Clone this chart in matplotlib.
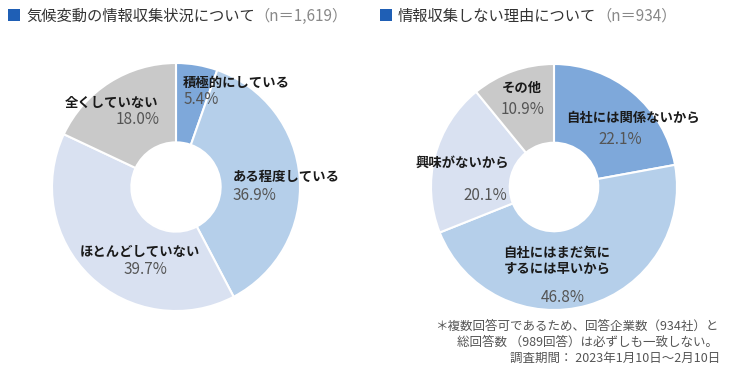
import matplotlib
matplotlib.use("Agg")
import matplotlib.pyplot as plt
from matplotlib.patches import Rectangle

plt.rcParams['font.family'] = ['Noto Sans CJK JP', 'DejaVu Sans']

W, H = 735, 376

# ---- data ----
left_title = "気候変動の情報収集状況について"
left_n = "（n＝1,619）"
left_labels = ["積極的にしている", "ある程度している", "ほとんどしていない", "全くしていない"]
left_values = [5.4, 36.9, 39.7, 18.0]

right_title = "情報収集しない理由について"
right_n = "（n＝934）"
right_labels = ["自社には関係ないから", "自社にはまだ気に\nするには早いから", "興味がないから", "その他"]
right_values = [22.1, 46.8, 20.1, 10.9]

colors = ["#7EA8DA", "#B5CFEA", "#D9E1F1", "#C9C9C9"]

notes = ["＊複数回答可であるため、回答企業数（934社）と",
         "総回答数 （989回答）は必ずしも一致しない。",
         "調査期間： 2023年1月10日～2月10日"]

fig = plt.figure(figsize=(W / 100, H / 100), dpi=100)
fig.patch.set_facecolor("white")


def px(x, y):
    return x / W, 1 - y / H


def donut(cx, cy, r, values, labels, label_pos, pct_pos, label_ha):
    ax = fig.add_axes([(cx - r) / W, (H - cy - r) / H, 2 * r / W, 2 * r / H])
    ax.pie(values, colors=colors, startangle=90, counterclock=False, radius=1.0,
           wedgeprops=dict(width=0.64, edgecolor="white", linewidth=1.5))
    ax.set_xlim(-1, 1)
    ax.set_ylim(-1, 1)
    ax.set_aspect("equal")
    ax.axis("off")
    for lab, val, (lx, ly), (qx, qy), ha in zip(labels, values, label_pos, pct_pos, label_ha):
        ax.text((lx - cx) / r, (cy - ly) / r, lab, ha=ha, va="center", fontsize=9.6,
                fontweight="bold", color="#1a1a1a", linespacing=1.15)
        ax.text((qx - cx) / r, (cy - qy) / r, f"{val:.1f}%", ha=ha, va="center",
                fontsize=11, color="#555555")
    return ax


donut(176, 187, 124, left_values, left_labels,
      [(183, 83), (233, 177), (140, 252), (112, 103)],
      [(184, 100), (233, 195), (145, 269), (138, 120)],
      ["left", "left", "center", "center"])

donut(554, 187, 123, right_values, right_labels,
      [(633, 118), (557, 261), (462, 163), (522, 88)],
      [(620, 140), (563, 298), (485, 195), (523, 110)],
      ["center", "center", "center", "center"])

# titles
for x0, title, n in [(8, left_title, left_n), (380, right_title, right_n)]:
    fig.patches.append(Rectangle(px(x0, 21), 12 / W, 12 / H, transform=fig.transFigure,
                                 facecolor="#1F5FB5", edgecolor="none"))
    t = fig.text(*px(x0 + 18, 16), title, fontsize=11, color="#333333", va="center", ha="left")
    fig.canvas.draw()
    bb = t.get_window_extent()
    fig.text(bb.x1 / W, 1 - 16 / H, n, fontsize=11, color="#888888", va="center", ha="left")

# notes
fig.text(*px(718, 326), notes[0], fontsize=9, color="#555555", ha="right", va="center")
fig.text(*px(718, 342), notes[1], fontsize=9, color="#555555", ha="right", va="center")
fig.text(*px(720, 358), notes[2], fontsize=9, color="#555555", ha="right", va="center")

fig.savefig("out.png", dpi=100, facecolor="white")
